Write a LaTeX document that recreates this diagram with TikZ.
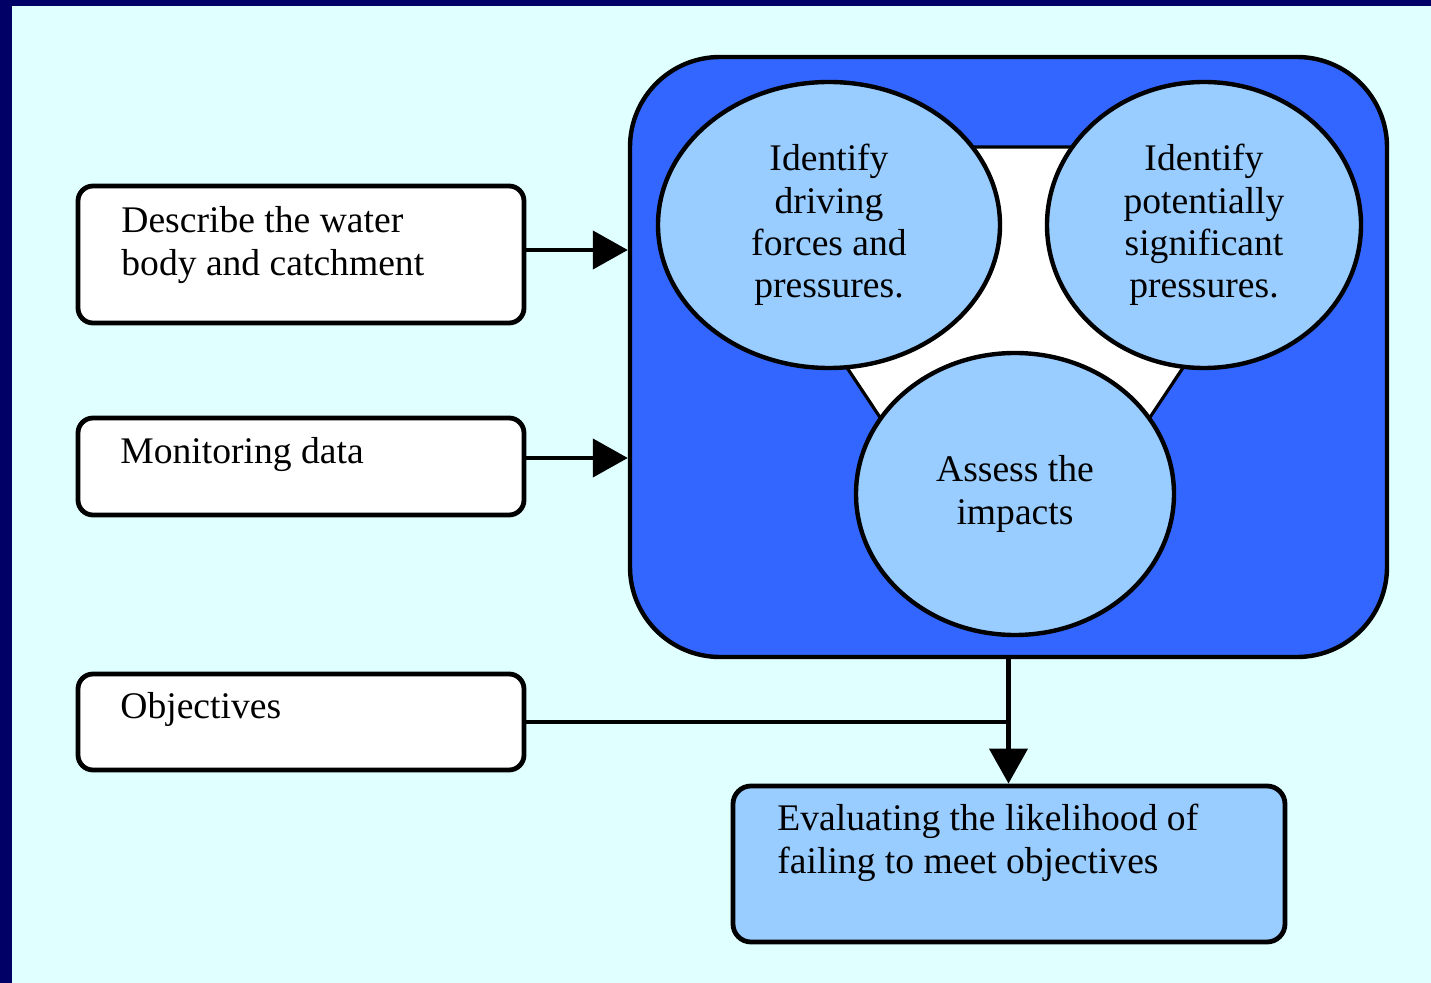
\documentclass[tikz,border=0pt]{standalone}
\usepackage{fontspec}
\setmainfont{Liberation Serif}
\usetikzlibrary{shapes.geometric,arrows.meta}
\definecolor{navy}{HTML}{000066}
\definecolor{bgcyan}{HTML}{E0FFFF}
\definecolor{bigblue}{HTML}{3366FF}
\definecolor{lightblue}{HTML}{99CCFF}
\begin{document}
\begin{tikzpicture}[x=0.5pt,y=-0.5pt,
  txt/.style={font=\fontsize{18.8}{21.5}\selectfont, inner sep=0pt, align=left},
  inbox/.style={draw=black, line width=2.4pt, fill=white, rounded corners=7.5pt, minimum width=223pt, inner sep=0pt},
  bubble/.style={ellipse, draw=black, line width=2.2pt, fill=lightblue, inner sep=0pt, align=center, font=\fontsize{18.8}{21.1}\selectfont},
  conn/.style={line width=2.2pt, draw=black},
  arr/.style={conn, -{Triangle[length=17.5pt,width=19pt]}}
]
\useasboundingbox (0,0) rectangle (1431,983);
\fill[navy] (0,0) rectangle (1431,983);
\fill[bgcyan] (12,6) rectangle (1431,983);

% big container
\node[draw=black, line width=2.2pt, fill=bigblue, rounded corners=45pt, minimum width=378.5pt, minimum height=300pt, inner sep=0pt] (big) at (1008.5,357) {};
\draw[fill=white, line width=1.6pt, line join=miter] (700,147) -- (1330,147) -- (1015,620) -- cycle;

\node[bubble, minimum width=171pt, minimum height=143pt] (e1) at (829,225) {Identify\\driving\\forces and\\pressures.};
\node[bubble, minimum width=157pt, minimum height=143pt] (e2) at (1204,225) {Identify\\potentially\\significant\\pressures.};
\node[bubble, minimum width=159pt, minimum height=141pt] (e3) at (1015,494) {Assess the\\impacts};

% input boxes
\node[inbox, minimum height=68.5pt] (b1) at (301,254.5) {};
\node[txt, anchor=base west] (t1) at (121,276) {Describe the water\\body and catchment};
\node[inbox, minimum height=48.5pt] (b2) at (301,466.5) {};
\node[txt, anchor=base west] (t2) at (120,464) {Monitoring data};
\node[inbox, minimum height=48pt] (b3) at (301,722) {};
\node[txt, anchor=base west] (t3) at (120,719) {Objectives};

% output box
\node[inbox, fill=lightblue, rounded corners=9pt, minimum width=276pt, minimum height=78pt] (ev) at (1009,864) {};
\node[txt, anchor=base west] (t4) at (777,874) {Evaluating the likelihood of\\failing to meet objectives};

% connectors
\draw[arr] ([yshift=2.25pt]b1.east) -- ([yshift=2.25pt]b1.east -| big.west);
\draw[arr] ([yshift=4.25pt]b2.east) -- ([yshift=4.25pt]b2.east -| big.west);
\draw[conn] (b3.east) -- (b3.east -| big.south);
\draw[arr] (big.south) -- (big.south |- ev.north);
\end{tikzpicture}
\end{document}
